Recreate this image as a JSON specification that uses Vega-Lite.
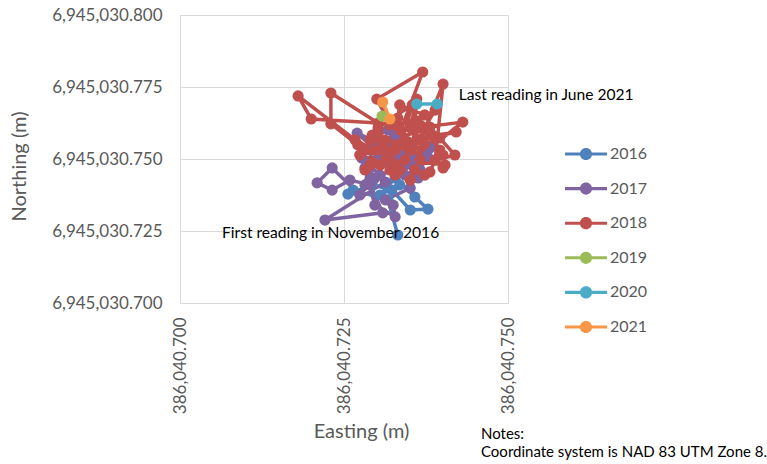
{
  "$schema": "https://vega.github.io/schema/vega-lite/v6.json",
  "width": 328,
  "height": 288,
  "autosize": {"type": "none"},
  "padding": {"left": 180, "top": 15, "right": 259, "bottom": 161},
  "config": {"view": {"stroke": null}, "font": "Lato"},
  "datasets": {
    "pts": [
      {"year": "2016", "i": 1, "E": 386040.7332, "N": 6945030.7236},
      {"year": "2016", "i": 2, "E": 386040.7317, "N": 6945030.7358},
      {"year": "2016", "i": 3, "E": 386040.7264, "N": 6945030.7392},
      {"year": "2016", "i": 4, "E": 386040.7256, "N": 6945030.7378},
      {"year": "2016", "i": 5, "E": 386040.7293, "N": 6945030.7410},
      {"year": "2016", "i": 6, "E": 386040.7323, "N": 6945030.7392},
      {"year": "2016", "i": 7, "E": 386040.7351, "N": 6945030.7323},
      {"year": "2016", "i": 8, "E": 386040.7378, "N": 6945030.7326},
      {"year": "2016", "i": 9, "E": 386040.7358, "N": 6945030.7368},
      {"year": "2016", "i": 10, "E": 386040.7328, "N": 6945030.7434},
      {"year": "2016", "i": 11, "E": 386040.7305, "N": 6945030.7375},
      {"year": "2016", "i": 12, "E": 386040.7335, "N": 6945030.7410},
      {"year": "2017", "i": 13, "E": 386040.7313, "N": 6945030.7420},
      {"year": "2017", "i": 14, "E": 386040.7221, "N": 6945030.7288},
      {"year": "2017", "i": 15, "E": 386040.7309, "N": 6945030.7313},
      {"year": "2017", "i": 16, "E": 386040.7290, "N": 6945030.7410},
      {"year": "2017", "i": 16.5, "E": 386040.7259, "N": 6945030.7427},
      {"year": "2017", "i": 17, "E": 386040.7232, "N": 6945030.7392},
      {"year": "2017", "i": 18, "E": 386040.7209, "N": 6945030.7417},
      {"year": "2017", "i": 19, "E": 386040.7232, "N": 6945030.7469},
      {"year": "2017", "i": 19.5, "E": 386040.7274, "N": 6945030.7375},
      {"year": "2017", "i": 20, "E": 386040.7297, "N": 6945030.7434},
      {"year": "2017", "i": 21, "E": 386040.7282, "N": 6945030.7469},
      {"year": "2017", "i": 21.5, "E": 386040.7297, "N": 6945030.7340},
      {"year": "2017", "i": 22, "E": 386040.7328, "N": 6945030.7299},
      {"year": "2017", "i": 23, "E": 386040.7325, "N": 6945030.7340},
      {"year": "2017", "i": 23.5, "E": 386040.7313, "N": 6945030.7358},
      {"year": "2017", "i": 24, "E": 386040.7351, "N": 6945030.7399},
      {"year": "2017", "i": 24.5, "E": 386040.7343, "N": 6945030.7444},
      {"year": "2017", "i": 25, "E": 386040.7332, "N": 6945030.7462},
      {"year": "2017", "i": 26, "E": 386040.7270, "N": 6945030.7590},
      {"year": "2017", "i": 27, "E": 386040.7320, "N": 6945030.7538},
      {"year": "2017", "i": 28, "E": 386040.7381, "N": 6945030.7538},
      {"year": "2017", "i": 29, "E": 386040.7377, "N": 6945030.7510},
      {"year": "2017", "i": 29.5, "E": 386040.7366, "N": 6945030.7462},
      {"year": "2017", "i": 30, "E": 386040.7363, "N": 6945030.7434},
      {"year": "2017", "i": 31, "E": 386040.7302, "N": 6945030.7497},
      {"year": "2017", "i": 31.5, "E": 386040.7282, "N": 6945030.7410},
      {"year": "2017", "i": 32, "E": 386040.7293, "N": 6945030.7542},
      {"year": "2017", "i": 33, "E": 386040.7328, "N": 6945030.7583},
      {"year": "2017", "i": 34, "E": 386040.7343, "N": 6945030.7479},
      {"year": "2017", "i": 35, "E": 386040.7305, "N": 6945030.7444},
      {"year": "2017", "i": 36, "E": 386040.7277, "N": 6945030.7503},
      {"year": "2017", "i": 37, "E": 386040.7335, "N": 6945030.7514},
      {"year": "2017", "i": 37.5, "E": 386040.7351, "N": 6945030.7497},
      {"year": "2017", "i": 38, "E": 386040.7313, "N": 6945030.7490},
      {"year": "2017", "i": 39, "E": 386040.7358, "N": 6945030.7497},
      {"year": "2017", "i": 40, "E": 386040.7317, "N": 6945030.7601},
      {"year": "2018", "i": 41, "E": 386040.7290, "N": 6945030.7479},
      {"year": "2018", "i": 41.5, "E": 386040.7282, "N": 6945030.7462},
      {"year": "2018", "i": 42, "E": 386040.7328, "N": 6945030.7531},
      {"year": "2018", "i": 42.5, "E": 386040.7313, "N": 6945030.7497},
      {"year": "2018", "i": 43, "E": 386040.7271, "N": 6945030.7549},
      {"year": "2018", "i": 44, "E": 386040.7230, "N": 6945030.7622},
      {"year": "2018", "i": 45, "E": 386040.7230, "N": 6945030.7729},
      {"year": "2018", "i": 46, "E": 386040.7302, "N": 6945030.7625},
      {"year": "2018", "i": 47, "E": 386040.7200, "N": 6945030.7639},
      {"year": "2018", "i": 48, "E": 386040.7180, "N": 6945030.7719},
      {"year": "2018", "i": 49, "E": 386040.7267, "N": 6945030.7566},
      {"year": "2018", "i": 49.5, "E": 386040.7358, "N": 6945030.7462},
      {"year": "2018", "i": 50, "E": 386040.7300, "N": 6945030.7708},
      {"year": "2018", "i": 51, "E": 386040.7370, "N": 6945030.7802},
      {"year": "2018", "i": 52, "E": 386040.7328, "N": 6945030.7549},
      {"year": "2018", "i": 52.5, "E": 386040.7389, "N": 6945030.7497},
      {"year": "2018", "i": 53, "E": 386040.7401, "N": 6945030.7760},
      {"year": "2018", "i": 54, "E": 386040.7366, "N": 6945030.7566},
      {"year": "2018", "i": 54.5, "E": 386040.7328, "N": 6945030.7444},
      {"year": "2018", "i": 55, "E": 386040.7431, "N": 6945030.7628},
      {"year": "2018", "i": 56, "E": 386040.7335, "N": 6945030.7601},
      {"year": "2018", "i": 56.5, "E": 386040.7297, "N": 6945030.7531},
      {"year": "2018", "i": 57, "E": 386040.7421, "N": 6945030.7594},
      {"year": "2018", "i": 57.5, "E": 386040.7343, "N": 6945030.7566},
      {"year": "2018", "i": 58, "E": 386040.7401, "N": 6945030.7469},
      {"year": "2018", "i": 58.5, "E": 386040.7320, "N": 6945030.7618},
      {"year": "2018", "i": 59, "E": 386040.7351, "N": 6945030.7531},
      {"year": "2018", "i": 59.5, "E": 386040.7366, "N": 6945030.7618},
      {"year": "2018", "i": 60, "E": 386040.7401, "N": 6945030.7514},
      {"year": "2018", "i": 60.5, "E": 386040.7396, "N": 6945030.7531},
      {"year": "2018", "i": 61, "E": 386040.7381, "N": 6945030.7455},
      {"year": "2018", "i": 61.5, "E": 386040.7274, "N": 6945030.7514},
      {"year": "2018", "i": 62, "E": 386040.7313, "N": 6945030.7531},
      {"year": "2018", "i": 62.5, "E": 386040.7351, "N": 6945030.7427},
      {"year": "2018", "i": 63, "E": 386040.7361, "N": 6945030.7708},
      {"year": "2018", "i": 64, "E": 386040.7351, "N": 6945030.7608},
      {"year": "2018", "i": 64.5, "E": 386040.7381, "N": 6945030.7583},
      {"year": "2018", "i": 65, "E": 386040.7293, "N": 6945030.7490},
      {"year": "2018", "i": 65.5, "E": 386040.7305, "N": 6945030.7479},
      {"year": "2018", "i": 66, "E": 386040.7396, "N": 6945030.7573},
      {"year": "2018", "i": 67, "E": 386040.7320, "N": 6945030.7462},
      {"year": "2018", "i": 67.5, "E": 386040.7335, "N": 6945030.7688},
      {"year": "2018", "i": 68, "E": 386040.7373, "N": 6945030.7653},
      {"year": "2018", "i": 69, "E": 386040.7293, "N": 6945030.7583},
      {"year": "2018", "i": 69.5, "E": 386040.7404, "N": 6945030.7479},
      {"year": "2018", "i": 70, "E": 386040.7343, "N": 6945030.7497},
      {"year": "2018", "i": 71, "E": 386040.7389, "N": 6945030.7670},
      {"year": "2018", "i": 72, "E": 386040.7312, "N": 6945030.7566},
      {"year": "2018", "i": 72.5, "E": 386040.7290, "N": 6945030.7566},
      {"year": "2018", "i": 73, "E": 386040.7366, "N": 6945030.7497},
      {"year": "2018", "i": 73.5, "E": 386040.7373, "N": 6945030.7444},
      {"year": "2018", "i": 74, "E": 386040.7332, "N": 6945030.7642},
      {"year": "2018", "i": 75, "E": 386040.7282, "N": 6945030.7531},
      {"year": "2018", "i": 76, "E": 386040.7381, "N": 6945030.7611},
      {"year": "2018", "i": 76.5, "E": 386040.7419, "N": 6945030.7514},
      {"year": "2018", "i": 77, "E": 386040.7335, "N": 6945030.7462},
      {"year": "2018", "i": 77.5, "E": 386040.7328, "N": 6945030.7479},
      {"year": "2018", "i": 78, "E": 386040.7354, "N": 6945030.7688},
      {"year": "2018", "i": 79, "E": 386040.7302, "N": 6945030.7608},
      {"year": "2018", "i": 80, "E": 386040.7373, "N": 6945030.7552},
      {"year": "2019", "i": 81, "E": 386040.7308, "N": 6945030.7649},
      {"year": "2020", "i": 82, "E": 386040.7361, "N": 6945030.7691},
      {"year": "2020", "i": 83, "E": 386040.7392, "N": 6945030.7691},
      {"year": "2021", "i": 84, "E": 386040.7320, "N": 6945030.7639},
      {"year": "2021", "i": 85, "E": 386040.7309, "N": 6945030.7698}
    ],
    "notes": [
      {"label": "First reading in November 2016", "E": 386040.7064, "N": 6945030.7243},
      {"label": "Last reading in June 2021", "E": 386040.7425, "N": 6945030.7722}
    ]
  },
  "title": {
    "text": ["Notes:", "Coordinate system is NAD 83 UTM Zone 8."],
    "orient": "bottom",
    "anchor": "end",
    "align": "left",
    "frame": "group",
    "dx": -27,
    "offset": -14,
    "fontSize": 15,
    "fontWeight": "normal",
    "color": "#000000",
    "lineHeight": 18,
    "font": "Lato"
  },
  "layer": [
    {
      "data": {"name": "pts"},
      "mark": {"type": "line", "strokeWidth": 3.5},
      "encoding": {
        "x": {
          "field": "E", "type": "quantitative",
          "scale": {"domain": [386040.7, 386040.75], "zero": false, "nice": false},
          "axis": {
            "values": [386040.7, 386040.725, 386040.75],
            "format": ",.3f",
            "labelAngle": -90,
            "labelFontSize": 17,
            "labelColor": "#595959",
            "labelPadding": 14,
            "ticks": false,
            "domainColor": "#D9D9D9",
            "gridColor": "#D9D9D9",
            "title": "Easting (m)",
            "titleFontSize": 20,
            "titleFontWeight": "normal",
            "titleColor": "#595959",
            "titleX": 181,
            "titleY": 128,
            "titleBaseline": "middle"
          }
        },
        "y": {
          "field": "N", "type": "quantitative",
          "scale": {"domain": [6945030.7, 6945030.8], "zero": false, "nice": false},
          "axis": {
            "values": [6945030.7, 6945030.725, 6945030.75, 6945030.775, 6945030.8],
            "format": ",.3f",
            "labelFontSize": 17,
            "labelColor": "#595959",
            "labelPadding": 18,
            "ticks": false,
            "domainColor": "#D9D9D9",
            "gridColor": "#D9D9D9",
            "title": "Northing (m)",
            "titleFontSize": 20,
            "titleFontWeight": "normal",
            "titleColor": "#595959",
            "titleX": -161,
            "titleY": 151,
            "titleBaseline": "middle"
          }
        },
        "color": {
          "field": "year", "type": "nominal",
          "scale": {
            "domain": ["2016", "2017", "2018", "2019", "2020", "2021"],
            "range": ["#4F81BD", "#8064A2", "#C0504D", "#9BBB59", "#4BACC6", "#F79646"]
          },
          "legend": {
            "title": null,
            "orient": "none",
            "legendX": 385,
            "legendY": 118,
            "rowPadding": 5.6,
            "symbolType": "M-1,-0.075L1,-0.075L1,0.075L-1,0.075Z M0.29,0A0.29,0.29 0 1,1 -0.29,0A0.29,0.29 0 1,1 0.29,0Z",
            "symbolSize": 1764,
            "symbolStrokeWidth": 0,
            "symbolOpacity": 1,
            "labelFontSize": 16,
            "labelColor": "#595959",
            "labelOffset": 3
          }
        },
        "order": {"field": "i", "type": "quantitative"}
      }
    },
    {
      "data": {"name": "pts"},
      "mark": {"type": "point", "filled": true, "size": 125, "opacity": 1},
      "encoding": {
        "x": {"field": "E", "type": "quantitative"},
        "y": {"field": "N", "type": "quantitative"},
        "color": {"field": "year", "type": "nominal"}
      }
    },
    {
      "data": {"name": "notes"},
      "mark": {"type": "text", "align": "left", "baseline": "middle", "fontSize": 15.6, "color": "#000000", "font": "Lato"},
      "encoding": {
        "x": {"field": "E", "type": "quantitative"},
        "y": {"field": "N", "type": "quantitative"},
        "text": {"field": "label"}
      }
    }
  ]
}
